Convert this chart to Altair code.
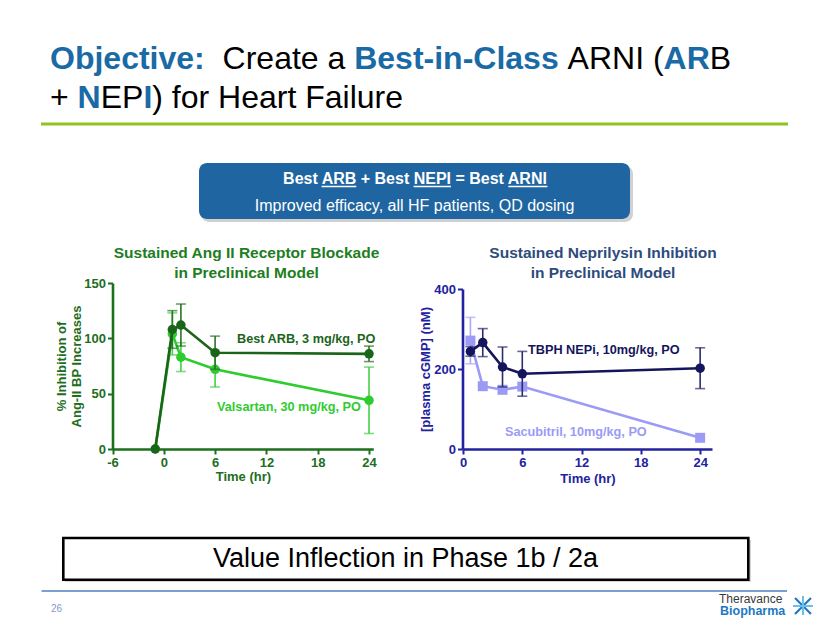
import altair as alt
import pandas as pd

# ------------------------------------------------------------------
# Data
# ------------------------------------------------------------------
# Left panel: Sustained Ang II Receptor Blockade (% inhibition)
ang_time = [-1, 1, 2, 6, 24]
best_arb_mean = [0, 108, 112, 87, 86]
best_arb_err = [0, 17, 19, 15, 7]
valsartan_mean = [0, 104, 83, 72, 44]
valsartan_err = [0, 19, 13, 16, 30]

# Right panel: Sustained Neprilysin Inhibition (plasma cGMP, nM)
nep_time = [0.75, 2, 4, 6, 24]
tbph_mean = [244, 266, 205, 188, 202]
tbph_err = [12, 35, 50, 56, 51]
sacubitril_mean = [271, 157, 148, 156, 28]
sacubitril_err = [58, 0, 0, 0, 0]

left_x_ticks = [-6, 0, 6, 12, 18, 24]
left_y_ticks = [0, 50, 100, 150]
right_x_ticks = [0, 6, 12, 18, 24]
right_y_ticks = [0, 200, 400]

series_labels = ["Best ARB, 3 mg/kg, PO", "Valsartan, 30 mg/kg, PO",
                 "TBPH NEPi, 10mg/kg, PO", "Sacubitril, 10mg/kg, PO"]

# ------------------------------------------------------------------
FONT = "Liberation Sans, Arial, Helvetica, sans-serif"
W, H = 814, 614
X_AXIS_Y = 441          # pixel row of both x-axis lines (chart coords)

TITLE_BLUE = "#1a6aa6"
GREEN_DARK = "#1b651b"
GREEN_AXIS = "#1d6e1d"
GREEN_TITLE = "#217d21"
GREEN_LIGHT = "#2fcc2f"
NAVY = "#15155e"
BLUE_AXIS = "#2222a0"
SLATE = "#2d4b7c"
PERI = "#9b9bf6"


def series_df(t, m, e):
    return pd.DataFrame({
        "t": t, "v": m, "e": e,
        "lo": [a - b for a, b in zip(m, e)],
        "hi": [a + b for a, b in zip(m, e)],
    })


def plot_layers(df, color, errcolor, shape, size, xs, ys, xaxis, yaxis):
    X = alt.X("t:Q", scale=xs, axis=xaxis)
    err = df[df["e"] > 0]
    rule = alt.Chart(err).mark_rule(color=errcolor, strokeWidth=1.6).encode(
        x=X, y=alt.Y("lo:Q", scale=ys, axis=yaxis), y2="hi:Q")
    cap_lo = alt.Chart(err).mark_tick(orient="horizontal", color=errcolor, size=10,
                                      thickness=1.6).encode(
        x=X, y=alt.Y("lo:Q", scale=ys, axis=yaxis))
    cap_hi = alt.Chart(err).mark_tick(orient="horizontal", color=errcolor, size=10,
                                      thickness=1.6).encode(
        x=X, y=alt.Y("hi:Q", scale=ys, axis=yaxis))
    line = alt.Chart(df).mark_line(color=color, strokeWidth=2.6).encode(
        x=X, y=alt.Y("v:Q", scale=ys, axis=yaxis))
    pts = alt.Chart(df).mark_point(shape=shape, filled=True, opacity=1, size=size,
                                   color=color).encode(
        x=X, y=alt.Y("v:Q", scale=ys, axis=yaxis))
    return [rule, cap_lo, cap_hi, line, pts]


def make_axis(orient, offset, values, title, color, tpad):
    return alt.Axis(orient=orient, offset=offset, values=values, title=title,
                    grid=False, domainColor=color, domainWidth=2.6,
                    tickColor=color, tickWidth=2, tickSize=5,
                    labelColor=color, labelFont=FONT, labelFontSize=13,
                    labelFontWeight="bold", labelPadding=2,
                    labelFlush=False, labelOverlap=False,
                    labelExpr="datum.value < 0 ? '-' + abs(datum.value) : datum.label",
                    titleColor=color, titleFont=FONT, titleFontSize=13,
                    titleFontWeight="bold", titlePadding=tpad)


# Left panel scales / axes (pixel ranges place the panel on the slide)
lxs = alt.Scale(domain=[-6, 24.5], range=[104.5, 365.3], nice=False, zero=False)
lys = alt.Scale(domain=[0, 150], range=[X_AXIS_Y, 275], nice=False, zero=False)
lxa = make_axis("bottom", X_AXIS_Y - H, left_x_ticks, "Time (hr)", GREEN_AXIS, 1)
lya = make_axis("left", -104.5, left_y_ticks,
                ["% Inhibition of", "Ang-II BP Increases"], GREEN_AXIS, 0)

rxs = alt.Scale(domain=[0, 25.2], range=[455, 704], nice=False, zero=False)
rys = alt.Scale(domain=[0, 400], range=[X_AXIS_Y, 281], nice=False, zero=False)
rxa = make_axis("bottom", X_AXIS_Y - H, right_x_ticks, "Time (hr)", BLUE_AXIS, 3)
rya = make_axis("left", -454.5, right_y_ticks, "[plasma cGMP] (nM)", BLUE_AXIS, 1)

left_panel = alt.layer(
    *plot_layers(series_df(ang_time, valsartan_mean, valsartan_err), GREEN_LIGHT,
                 "#45d045", "circle", 90, lxs, lys, lxa, lya),
    *plot_layers(series_df(ang_time, best_arb_mean, best_arb_err), GREEN_DARK,
                 "#2b722b", "circle", 90, lxs, lys, lxa, lya),
)
right_panel = alt.layer(
    *plot_layers(series_df(nep_time, sacubitril_mean, sacubitril_err), PERI,
                 "#a9a9f7", "square", 100, rxs, rys, rxa, rya),
    *plot_layers(series_df(nep_time, tbph_mean, tbph_err), NAVY,
                 "#2b2b6e", "circle", 90, rxs, rys, rxa, rya),
)

# ------------------------------------------------------------------
# Slide decorations (pixel positioned)
# ------------------------------------------------------------------
dummy = pd.DataFrame({"k": [0]})


def txt(s, x, y, size, color, weight="normal", align="left", baseline="alphabetic"):
    return alt.Chart(dummy).mark_text(
        text=s, align=align, baseline=baseline, fontSize=size, fontWeight=weight,
        color=color, font=FONT).encode(x=alt.value(x), y=alt.value(y))


def box(x, x2, y, y2, **kw):
    return alt.Chart(dummy).mark_rect(**kw).encode(
        x=alt.value(x), x2=alt.value(x2), y=alt.value(y), y2=alt.value(y2))


def seg(x, y, x2, y2, color, w):
    return alt.Chart(dummy).mark_rule(color=color, strokeWidth=w).encode(
        x=alt.value(x), y=alt.value(y), x2=alt.value(x2), y2=alt.value(y2))


decor = [
    # slide title
    txt("Objective:", 42, 61, 32, TITLE_BLUE, "bold"),
    txt("Create a", 214.6, 61, 32, "#000000"),
    txt("Best-in-Class", 346.2, 61, 32, TITLE_BLUE, "bold"),
    txt("ARNI (", 559.6, 61, 32, "#000000"),
    txt("AR", 655.6, 61, 32, TITLE_BLUE, "bold"),
    txt("B", 701.8, 61, 32, "#000000"),
    txt("+", 42, 100, 32, "#000000"),
    txt("N", 69.6, 100, 32, TITLE_BLUE, "bold"),
    txt("EP", 92.7, 100, 32, "#000000"),
    txt("I", 135.4, 100, 32, TITLE_BLUE, "bold"),
    txt(") for Heart Failure", 144.3, 100, 32, "#000000"),
    seg(33, 116, 780, 116, "#8fc31f", 3),
    # blue call-out box
    box(193, 625, 158, 214, color="#9a9a9a", opacity=0.45, cornerRadius=8),
    box(191, 622, 155, 211, color="#1f65a2", cornerRadius=8),
    txt("Best ARB + Best NEPI = Best ARNI", 407, 176, 16, "white", "bold", "center"),
    seg(313.6, 178.5, 348.3, 178.5, "white", 1.5),
    seg(405.6, 178.5, 442.9, 178.5, "white", 1.5),
    seg(500.3, 178.5, 539.4, 178.5, "white", 1.5),
    txt("Improved efficacy, all HF patients, QD dosing", 406.5, 203, 16, "white",
        "normal", "center"),
    # panel titles
    txt("Sustained Ang II Receptor Blockade", 238.5, 250, 15.5, GREEN_TITLE, "bold", "center"),
    txt("in Preclinical Model", 238.5, 269.5, 15.5, GREEN_TITLE, "bold", "center"),
    txt("Sustained Neprilysin Inhibition", 595, 250, 15.5, SLATE, "bold", "center"),
    txt("in Preclinical Model", 595, 269.5, 15.5, SLATE, "bold", "center"),
    # series labels
    txt(series_labels[0], 229, 331, 12.7, GREEN_DARK, "bold", baseline="middle"),
    txt(series_labels[1], 209, 399, 12.7, GREEN_LIGHT, "bold", baseline="middle"),
    txt(series_labels[2], 520, 342, 12.7, NAVY, "bold", baseline="middle"),
    txt(series_labels[3], 497, 424, 12.7, PERI, "bold", baseline="middle"),
    # bottom box
    box(57, 743, 532, 574, color="#b0b0b0", opacity=0.5),
    box(55.3, 740.3, 530, 571.7, fill="white", stroke="black", strokeWidth=2.6),
    txt("Value Inflection in Phase 1b / 2a", 397.5, 559, 27, "#000000", "normal", "center"),
    # footer
    seg(33.5, 583, 779, 583, "#4f81bd", 1.5),
    txt("26", 43, 604, 10, "#7f9cc9"),
    txt("Theravance", 711, 594.5, 12, "#3a3a3a"),
    txt("Biopharma", 712, 607, 12.5, "#1d78c1", "bold"),
    seg(787, 590, 803, 606, "#1d78c1", 2.2),
    seg(803, 590, 787, 606, "#1d78c1", 2.2),
    seg(795, 588, 795, 607, "#6cbde8", 2),
    seg(785, 598, 805, 598, "#6cbde8", 2),
]

chart = alt.layer(*decor, left_panel, right_panel).resolve_scale(
    x="independent", y="independent"
).properties(
    width=W, height=H, padding=0, background="white",
    autosize=alt.AutoSizeParams(type="none"),
).configure_view(stroke=None)

chart.save("out.html", embed_options={"renderer": "svg", "actions": False})
